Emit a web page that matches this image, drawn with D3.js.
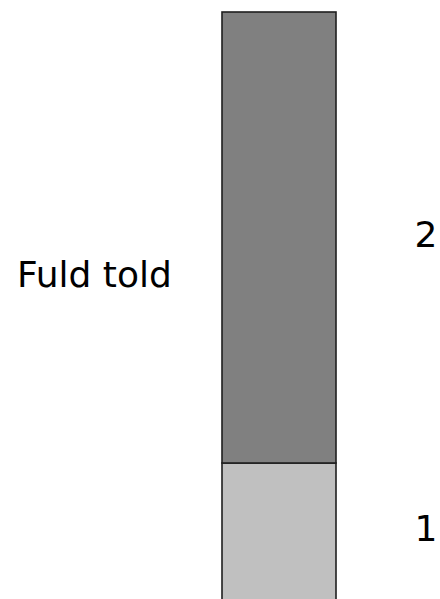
<!DOCTYPE html>
<html>
<head>
<meta charset="utf-8">
<script src="https://cdn.jsdelivr.net/npm/d3@7/dist/d3.min.js"></script>
<style>
html,body{margin:0;padding:0;background:#fff;}
svg{display:block;}
</style>
</head>
<body>
<script>
const categories = ["Fuld told"];
const segmentLabels = ["1", "2"];
const segmentValues = [137, 451];
const segmentColors = ["#c0c0c0", "#808080"];

const W = 440, H = 599;
const svg = d3.select("body").append("svg").attr("width", W).attr("height", H);

const total = d3.sum(segmentValues);
const y = d3.scaleLinear().domain([0, total]).range([12 + total, 12]);
const x = d3.scaleBand().domain(categories).range([222, 336]).padding(0);

let acc = 0;
const stack = segmentValues.map((v, i) => { const s = {y0: acc, y1: acc + v, label: segmentLabels[i], color: segmentColors[i]}; acc += v; return s; });

svg.selectAll("rect.seg").data(stack).enter().append("rect")
  .attr("class", "seg")
  .attr("x", x(categories[0]))
  .attr("width", x.bandwidth())
  .attr("y", d => y(d.y1))
  .attr("height", d => y(d.y0) - y(d.y1))
  .attr("fill", d => d.color)
  .attr("stroke", "#1e1e1e")
  .attr("stroke-width", 1.6);

svg.selectAll("text.seglab").data(stack).enter().append("text")
  .attr("class", "seglab")
  .attr("x", 426)
  .attr("y", d => (y(d.y0) + y(d.y1)) / 2 + 9)
  .attr("text-anchor", "middle")
  .attr("font-family", "DejaVu Sans")
  .attr("font-size", 36)
  .attr("fill", "#000")
  .text(d => d.label);

svg.append("text")
  .attr("x", 17)
  .attr("y", 287)
  .attr("font-family", "DejaVu Sans")
  .attr("font-size", 36)
  .attr("fill", "#000")
  .text(categories[0]);
</script>
</body>
</html>
